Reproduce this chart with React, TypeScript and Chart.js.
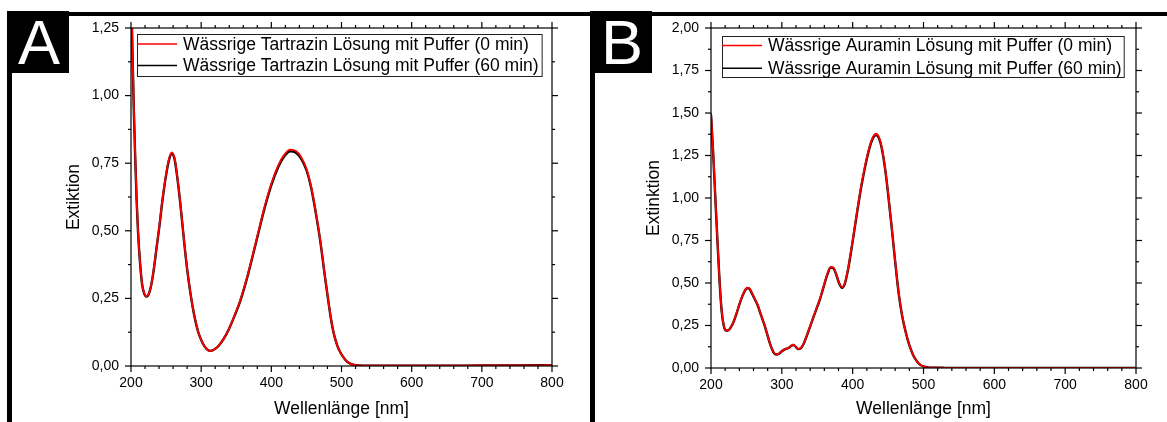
import React, { useEffect, useRef } from "react";
import { Chart, registerables } from "chart.js";

Chart.register(...registerables);

const FONT = '"Liberation Sans", Arial, Helvetica, sans-serif';

// ---------- Panel A: Tartrazin ----------
const wavelengthsA = [200, 202, 204, 206, 208, 210, 213, 216, 219, 222, 225, 228, 232, 236, 240, 245, 250, 254, 258, 262, 266, 270, 275, 280, 285, 290, 296, 302, 308, 313, 318, 325, 332, 340, 348, 356, 364, 372, 380, 390, 400, 410, 418, 427, 435, 442, 450, 457, 464, 470, 476, 481, 485, 489, 494, 499, 504, 508, 513, 518, 525, 535, 550, 600, 650, 700, 750, 800];
const tartrazin0 = [1.45, 1.18, 0.96, 0.78, 0.62, 0.5, 0.38, 0.3, 0.268, 0.258, 0.265, 0.29, 0.35, 0.43, 0.51, 0.62, 0.71, 0.765, 0.79, 0.77, 0.7, 0.61, 0.48, 0.36, 0.265, 0.19, 0.125, 0.085, 0.062, 0.056, 0.06, 0.075, 0.1, 0.14, 0.19, 0.245, 0.315, 0.395, 0.48, 0.585, 0.675, 0.743, 0.78, 0.8, 0.795, 0.775, 0.73, 0.66, 0.56, 0.46, 0.34, 0.245, 0.175, 0.12, 0.075, 0.047, 0.028, 0.016, 0.008, 0.004, 0.002, 0.001, 0.001, 0.001, 0.001, 0.002, 0.002, 0.003];
const tartrazin60 = [1.44, 1.17, 0.95, 0.77, 0.615, 0.497, 0.378, 0.299, 0.267, 0.257, 0.264, 0.289, 0.348, 0.428, 0.507, 0.616, 0.706, 0.76, 0.785, 0.766, 0.697, 0.607, 0.478, 0.358, 0.264, 0.189, 0.124, 0.085, 0.062, 0.056, 0.06, 0.075, 0.1, 0.139, 0.188, 0.243, 0.312, 0.392, 0.476, 0.58, 0.669, 0.737, 0.774, 0.794, 0.789, 0.769, 0.725, 0.656, 0.556, 0.457, 0.338, 0.244, 0.174, 0.12, 0.075, 0.047, 0.028, 0.016, 0.008, 0.004, 0.002, 0.001, 0.001, 0.001, 0.001, 0.002, 0.002, 0.003];
const legendA = ["Wässrige Tartrazin Lösung mit Puffer (0 min)", "Wässrige Tartrazin Lösung mit Puffer (60 min)"];
const yTickLabelsA = ["0,00", "0,25", "0,50", "0,75", "1,00", "1,25"];

// ---------- Panel B: Auramin ----------
const wavelengthsB = [200, 203, 206, 209, 212, 215, 218, 221, 224, 228, 232, 237, 242, 247, 251, 254, 258, 262, 266, 270, 275, 280, 284, 288, 292, 296, 300, 305, 310, 313, 316, 319, 323, 327, 331, 336, 342, 348, 354, 359, 364, 369, 373, 377, 381, 385, 389, 394, 400, 406, 412, 418, 424, 429, 433, 437, 441, 446, 450, 455, 460, 465, 470, 475, 480, 485, 490, 495, 500, 506, 515, 530, 600, 700, 800];
const auramin0 = [1.5, 1.28, 1.02, 0.76, 0.52, 0.34, 0.25, 0.222, 0.222, 0.24, 0.275, 0.335, 0.4, 0.45, 0.472, 0.47, 0.44, 0.405, 0.37, 0.32, 0.26, 0.19, 0.135, 0.095, 0.08, 0.085, 0.1, 0.112, 0.12, 0.13, 0.138, 0.128, 0.112, 0.118, 0.145, 0.2, 0.27, 0.34, 0.41, 0.48, 0.55, 0.595, 0.59, 0.55, 0.5, 0.475, 0.5, 0.595, 0.75, 0.915, 1.07, 1.2, 1.305, 1.362, 1.378, 1.36, 1.3, 1.17, 1.03, 0.835, 0.63, 0.44, 0.305, 0.21, 0.135, 0.08, 0.043, 0.02, 0.009, 0.004, 0.002, 0.001, 0.0, 0.0, 0.0];
const auramin60 = [1.49, 1.27, 1.01, 0.755, 0.517, 0.338, 0.249, 0.221, 0.221, 0.239, 0.273, 0.333, 0.398, 0.447, 0.469, 0.467, 0.437, 0.403, 0.368, 0.318, 0.259, 0.189, 0.134, 0.094, 0.079, 0.084, 0.099, 0.111, 0.119, 0.129, 0.136, 0.127, 0.111, 0.117, 0.144, 0.198, 0.268, 0.338, 0.407, 0.477, 0.546, 0.591, 0.586, 0.547, 0.497, 0.472, 0.497, 0.591, 0.745, 0.909, 1.063, 1.193, 1.298, 1.355, 1.371, 1.353, 1.294, 1.165, 1.025, 0.831, 0.626, 0.437, 0.303, 0.209, 0.134, 0.08, 0.043, 0.02, 0.009, 0.004, 0.002, 0.001, 0.0, 0.0, 0.0];
const legendB = ["Wässrige Auramin Lösung mit Puffer (0 min)", "Wässrige Auramin Lösung mit Puffer (60 min)"];
const yTickLabelsB = ["0,00", "0,25", "0,50", "0,75", "1,00", "1,25", "1,50", "1,75", "2,00"];

// ---------- shared ----------
const xTickValues = [200, 300, 400, 500, 600, 700, 800];
const xTickLabels = ["200", "300", "400", "500", "600", "700", "800"];
const xAxisTitle = "Wellenlänge [nm]";
const seriesColors = ["#ff0000", "#000000"];

const frameTicksPlugin = {
  id: "frameTicks",
  afterDraw(chart: any, _args: any, opts: any) {
    const { ctx, chartArea: a, scales } = chart;
    const xs = scales.x;
    const ys = scales.y;
    ctx.save();
    ctx.strokeStyle = "#000";
    ctx.lineWidth = 1.2;
    ctx.strokeRect(a.left, a.top, a.right - a.left, a.bottom - a.top);
    const seg = (x1: number, y1: number, x2: number, y2: number) => {
      ctx.beginPath();
      ctx.moveTo(x1, y1);
      ctx.lineTo(x2, y2);
      ctx.stroke();
    };
    const isMajor = (v: number, step: number) => Math.abs(v / step - Math.round(v / step)) < 1e-6;
    const nx = Math.round((xs.max - xs.min) / opts.xMinor);
    for (let i = 0; i <= nx; i++) {
      const v = xs.min + i * opts.xMinor;
      const len = isMajor(v, opts.xMajor) ? 6 : 3;
      const px = xs.getPixelForValue(v);
      seg(px, a.bottom, px, a.bottom + len);
      seg(px, a.top, px, a.top - len);
    }
    const ny = Math.round((ys.max - ys.min) / opts.yMinor);
    for (let i = 0; i <= ny; i++) {
      const v = ys.min + i * opts.yMinor;
      const len = isMajor(v, opts.yMajor) ? 6 : 3;
      const py = ys.getPixelForValue(v);
      seg(a.left, py, a.left - len, py);
      seg(a.right, py, a.right + len, py);
    }
    // legend box
    const lg = opts.legend;
    const x0 = a.left + lg.dx;
    const y0 = a.top + lg.dy;
    ctx.font = `17.5px ${FONT}`;
    const dsets = chart.data.datasets;
    let tw = 0;
    dsets.forEach((d: any) => { tw = Math.max(tw, ctx.measureText(d.label).width); });
    const boxW = lg.lineLen + lg.textGap + tw + lg.padRight;
    ctx.fillStyle = "#fff";
    ctx.fillRect(x0, y0, boxW, lg.boxH);
    ctx.strokeStyle = "#222";
    ctx.lineWidth = 1;
    ctx.strokeRect(x0 + 0.5, y0 + 0.5, boxW, lg.boxH);
    dsets.forEach((d: any, i: number) => {
      const y = y0 + lg.firstRow + i * lg.rowGap;
      ctx.strokeStyle = d.borderColor;
      ctx.lineWidth = 1.6;
      seg(x0, y, x0 + lg.lineLen, y);
      ctx.fillStyle = "#000";
      ctx.textBaseline = "middle";
      ctx.textAlign = "left";
      ctx.fillText(d.label, x0 + lg.lineLen + lg.textGap, y + 1);
    });
    ctx.restore();
  },
};

type PanelProps = {
  left: number;
  width: number;
  wavelengths: number[];
  series: number[][];
  labels: string[];
  yMax: number;
  yTickLabels: string[];
  yTitle: string;
  yAxisWidth: number;
  yTitlePad: number;
  padRight: number;
  xAxisHeight: number;
  legend: any;
};

function Panel(p: PanelProps) {
  const ref = useRef<HTMLCanvasElement | null>(null);
  useEffect(() => {
    if (!ref.current) return;
    const datasets = p.series.map((vals, si) => ({
      label: p.labels[si],
      data: p.wavelengths.map((x, i) => ({ x, y: vals[i] })),
      borderColor: seriesColors[si],
      backgroundColor: seriesColors[si],
      borderWidth: si === 0 ? 1.8 : 2.4,
      pointRadius: 0,
      fill: false,
      cubicInterpolationMode: "monotone" as const,
    }));
    const chart = new Chart(ref.current, {
      type: "line",
      data: { datasets },
      plugins: [frameTicksPlugin],
      options: {
        animation: false,
        responsive: false,
        maintainAspectRatio: false,
        events: [],
        layout: { padding: { left: 0, right: p.padRight, top: 28, bottom: 0 } },
        plugins: {
          legend: { display: false },
          tooltip: { enabled: false },
          // @ts-ignore
          frameTicks: { xMajor: 100, xMinor: 20, yMajor: 0.25, yMinor: 0.125, legend: p.legend },
        },
        scales: {
          x: {
            type: "linear",
            min: 200,
            max: 800,
            afterFit: (s: any) => { s.height = p.xAxisHeight; },
            grid: { display: false, drawTicks: true, tickLength: 6 },
            border: { display: false },
            ticks: {
              stepSize: 100,
              autoSkip: false,
              maxRotation: 0,
              padding: 3,
              color: "#000",
              font: { family: FONT, size: 14 },
              callback: (v: any) => {
                const idx = xTickValues.indexOf(Number(v));
                return idx >= 0 ? xTickLabels[idx] : "";
              },
            },
            title: {
              display: true,
              text: xAxisTitle,
              color: "#000",
              font: { family: FONT, size: 17.5 },
              padding: { top: 0, bottom: 2 },
            },
          },
          y: {
            type: "linear",
            min: 0,
            max: p.yMax,
            afterFit: (s: any) => { s.width = p.yAxisWidth; },
            grid: { display: false, drawTicks: true, tickLength: 6 },
            border: { display: false },
            ticks: {
              stepSize: 0.25,
              autoSkip: false,
              padding: 6,
              color: "#000",
              font: { family: FONT, size: 14 },
              callback: (_v: any, i: number) => p.yTickLabels[i] ?? "",
            },
            title: {
              display: true,
              text: p.yTitle,
              color: "#000",
              font: { family: FONT, size: 17.5 },
              padding: { top: p.yTitlePad, bottom: 0 },
            },
          },
        },
      },
    } as any);
    return () => chart.destroy();
  }, []);
  return (
    <canvas
      ref={ref}
      width={p.width}
      height={422}
      style={{ position: "absolute", left: p.left, top: 0, width: p.width, height: 422 }}
    />
  );
}

const bar = (left: number, top: number, width: number, height: number): React.CSSProperties => ({
  position: "absolute",
  left,
  top,
  width,
  height,
  background: "#000",
});

const letterStyle = (left: number): React.CSSProperties => ({
  position: "absolute",
  left,
  top: 11,
  width: 62,
  height: 62,
  lineHeight: "62px",
  color: "#fff",
  fontFamily: FONT,
  fontSize: 63,
  textAlign: "center",
});

export default function App() {
  return (
    <div style={{ position: "fixed", left: 0, top: 0, width: 1167, height: 422, background: "#fff", overflow: "hidden" }}>
      <Panel
        left={0}
        width={590}
        wavelengths={wavelengthsA}
        series={[tartrazin0, tartrazin60]}
        labels={legendA}
        yMax={1.25}
        yTickLabels={yTickLabelsA}
        yTitle="Extiktion"
        yAxisWidth={131}
        yTitlePad={64}
        padRight={38}
        xAxisHeight={56}
        legend={{ dx: 6, dy: 6, lineLen: 40, textGap: 6, padRight: 3, boxH: 42, firstRow: 10, rowGap: 21.5 }}
      />
      <Panel
        left={595}
        width={572}
        wavelengths={wavelengthsB}
        series={[auramin0, auramin60]}
        labels={legendB}
        yMax={2}
        yTickLabels={yTickLabelsB}
        yTitle="Extinktion"
        yAxisWidth={116}
        yTitlePad={49}
        padRight={31}
        xAxisHeight={54}
        legend={{ dx: 11, dy: 8, lineLen: 40, textGap: 6, padRight: 2, boxH: 41, firstRow: 9.5, rowGap: 22.7 }}
      />
      <div style={bar(7, 12, 1160, 4)} />
      <div style={bar(7, 11, 5, 411)} />
      <div style={bar(590, 11, 5, 411)} />
      <div style={bar(7, 11, 62, 62)} />
      <div style={bar(590, 11, 62, 62)} />
      <div style={letterStyle(8)}>A</div>
      <div style={letterStyle(591)}>B</div>
    </div>
  );
}
